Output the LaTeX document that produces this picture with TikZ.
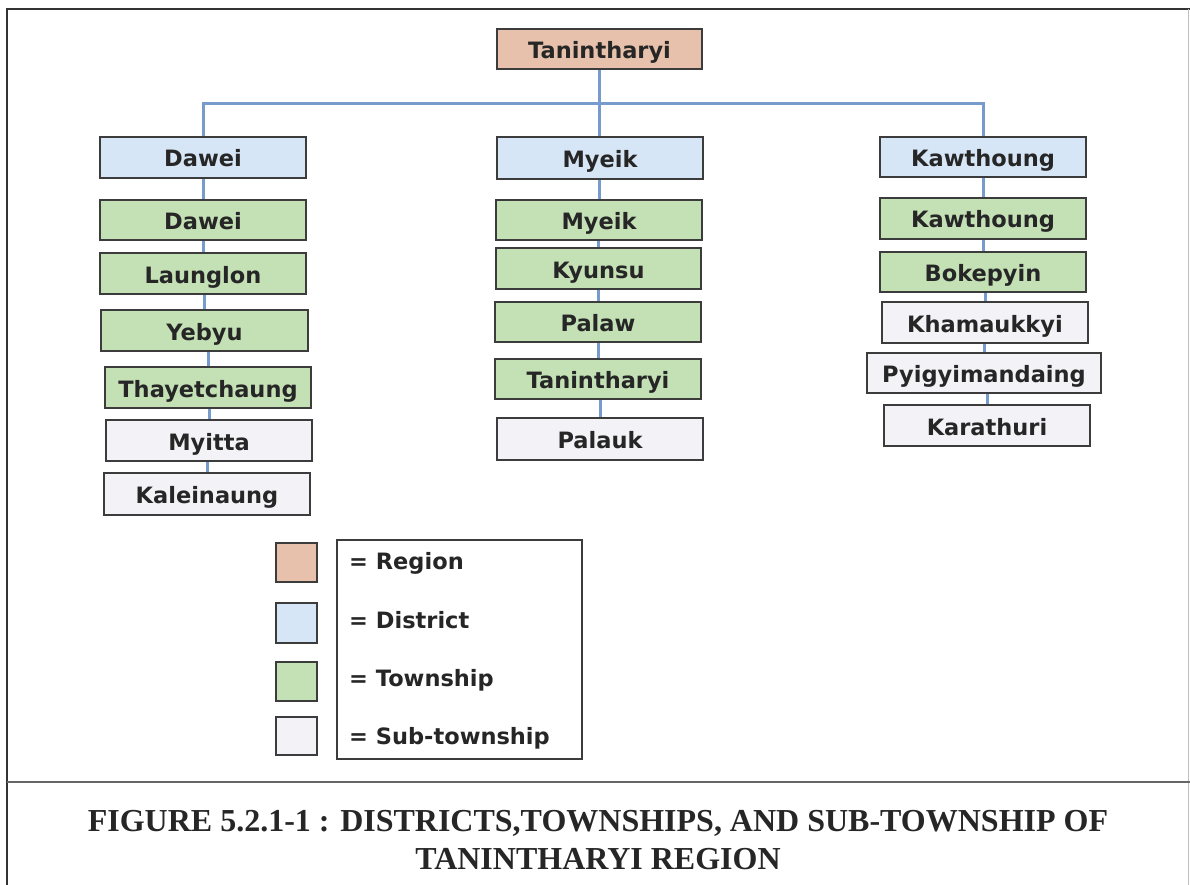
\documentclass[tikz,border=0pt]{standalone}
\usepackage{fontspec}
\newfontfamily\boxfont{DejaVu Sans}
\newfontfamily\capfont{Liberation Serif}
\usetikzlibrary{backgrounds}
\definecolor{regionc}{RGB}{232,193,172}
\definecolor{districtc}{RGB}{214,230,246}
\definecolor{townc}{RGB}{196,225,182}
\definecolor{subc}{RGB}{242,242,247}
\definecolor{linkc}{RGB}{120,155,205}
\definecolor{edgec}{RGB}{60,60,60}
\definecolor{txtc}{RGB}{38,38,38}
\tikzset{
  unitbox/.style={draw=edgec, line width=1.3pt, minimum width=206pt, minimum height=41pt,
    inner sep=0pt, text height=19pt, text depth=0pt, text=txtc, font=\boxfont\bfseries\fontsize{22.5}{22.5}\selectfont},
  regbox/.style={unitbox, fill=regionc},
  disbox/.style={unitbox, fill=districtc},
  townbox/.style={unitbox, fill=townc},
  subbox/.style={unitbox, fill=subc},
  swatch/.style={draw=edgec, line width=1.2pt, minimum width=41pt, minimum height=39pt, inner sep=0pt},
  legtext/.style={anchor=west, inner sep=0pt, text=txtc, font=\boxfont\bfseries\fontsize{22.5}{22.5}\selectfont},
  link/.style={draw=linkc, line width=3pt},
  frame/.style={draw=black!80, line width=1.6pt}
}
\begin{document}
\begin{tikzpicture}[x=1pt,y=-1pt]
\useasboundingbox (0,0) rectangle (1190,885);
% frame
\draw[frame] (7,885) -- (7,9) -- (1190,9);
\draw[draw=black!25, line width=1pt] (1188,9) -- (1188,885);
\draw[draw=black!60, line width=1.8pt] (7,782) -- (1190,782);
% region
\node[regbox, minimum width=205pt, minimum height=40pt] (reg) at (599.5,49) {Tanintharyi};
% districts
\node[disbox] (dD) at (203,157.5) {Dawei};
\node[disbox, minimum height=42pt] (dM) at (600,158) {Myeik};
\node[disbox, minimum height=40pt] (dK) at (983,157) {Kawthoung};
% left column
\node[townbox, minimum height=40pt] (l1) at (203,220) {Dawei};
\node[townbox] (l2) at (203,273.5) {Launglon};
\node[townbox, minimum width=207pt] (l3) at (204.5,330.5) {Yebyu};
\node[townbox] (l4) at (208,387.5) {Thayetchaung};
\node[subbox] (l5) at (209,440.5) {Myitta};
\node[subbox, minimum height=42pt] (l6) at (207,494) {Kaleinaung};
% middle column
\node[townbox, minimum height=40pt] (m1) at (599,220) {Myeik};
\node[townbox, minimum width=205pt] (m2) at (598.5,268.5) {Kyunsu};
\node[townbox, minimum height=40pt] (m3) at (598,322) {Palaw};
\node[townbox, minimum height=40pt] (m4) at (598,379) {Tanintharyi};
\node[subbox, minimum height=42pt] (m5) at (600,439) {Palauk};
% right column
\node[townbox] (r1) at (983,218.5) {Kawthoung};
\node[townbox, minimum height=40pt] (r2) at (983,272) {Bokepyin};
\node[subbox] (r3) at (985,322.5) {Khamaukkyi};
\node[subbox, minimum width=234pt, minimum height=40pt] (r4) at (984,373) {Pyigyimandaing};
\node[subbox] (r5) at (987,425.5) {Karathuri};
% connectors
\coordinate (bus) at (599,104);
\begin{scope}[on background layer]
\draw[link] (reg.south) -- (reg.south |- dM.north);
\draw[link] (dD.north) -- (dD.north |- bus) -- (dK.north |- bus) -- (dK.north);
\foreach \a/\b in {dD/l1,l1/l2,l2/l3,l3/l4,l4/l5,l5/l6,dM/m1,m1/m2,m2/m3,m3/m4,m4/m5,dK/r1,r1/r2,r2/r3,r3/r4,r4/r5}
  \draw[link] (\b.north |- \a.south) -- (\b.north);
\end{scope}
% legend
\node[swatch, fill=regionc] (s1) at (296.5,562.5) {};
\node[swatch, fill=districtc, minimum height=40pt] (s2) at (296.5,623) {};
\node[swatch, fill=townc] (s3) at (296.5,681.5) {};
\node[swatch, fill=subc, minimum height=38pt] (s4) at (296.5,736) {};
\node[draw=edgec, line width=1.2pt, minimum width=245pt, minimum height=219pt, inner sep=0pt] (legbox) at (459.5,649.5) {};
\node[legtext] (t1) at (349,563) {= Region};
\node[legtext] (t2) at (349,620) {= District};
\node[legtext] (t3) at (349,680) {= Township};
\node[legtext] (t4) at (349,738) {= Sub-township};
% caption
\node[inner sep=0pt, align=center, text=black!85, font=\capfont\bfseries\fontsize{32}{38}\selectfont] (cap) at (598,840)
  {FIGURE 5.2.1-1 : DISTRICTS,TOWNSHIPS, AND SUB-TOWNSHIP OF\\TANINTHARYI REGION};
\end{tikzpicture}
\end{document}
